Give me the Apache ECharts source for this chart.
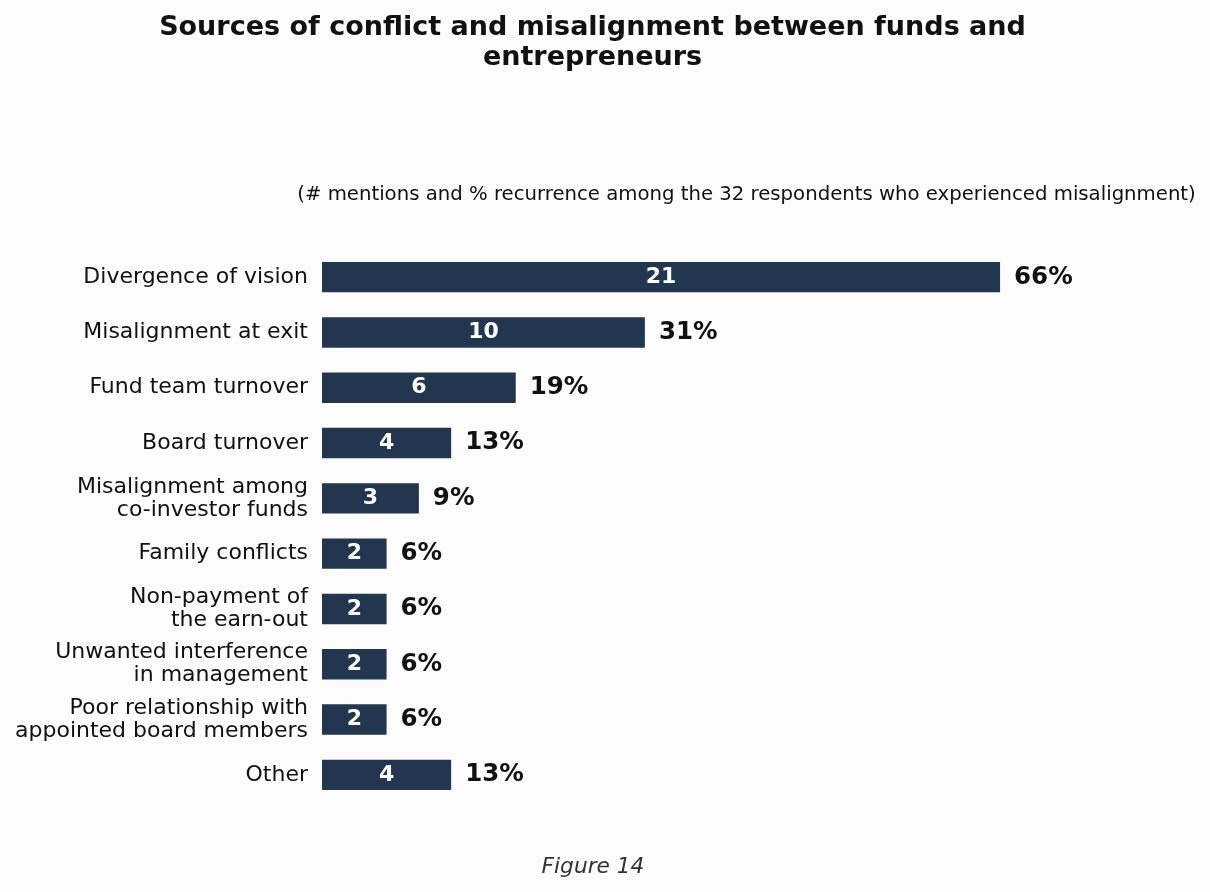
<!DOCTYPE html>
<html>
<head>
<meta charset="utf-8">
<script src="https://cdn.jsdelivr.net/npm/echarts@6/dist/echarts.min.js"></script>
<style>
html,body{margin:0;padding:0;background:#fcfcfc;}
#chart{width:1210px;height:892px;}
</style>
</head>
<body>
<div id="chart"></div>
<script>
const categories = [
  "Divergence of vision",
  "Misalignment at exit",
  "Fund team turnover",
  "Board turnover",
  "Misalignment among\nco-investor funds",
  "Family conflicts",
  "Non-payment of\nthe earn-out",
  "Unwanted interference\nin management",
  "Poor relationship with\nappointed board members",
  "Other"
];
const mentions = [21, 10, 6, 4, 3, 2, 2, 2, 2, 4];
const percentLabels = ["66%", "31%", "19%", "13%", "9%", "6%", "6%", "6%", "6%", "13%"];
const titleText = "Sources of conflict and misalignment between funds and\nentrepreneurs";
const subtitleText = "(# mentions and % recurrence among the 32 respondents who experienced misalignment)";
const footerText = "Figure 14";

const FONT = "DejaVu Sans";
const chart = echarts.init(document.getElementById('chart'));
chart.setOption({
  backgroundColor: '#fcfcfc',
  animation: false,
  title: [
    {
      text: titleText, left: 587.5, top: 8, textAlign: 'center',
      textStyle: { fontFamily: FONT, fontSize: 27, fontWeight: 'bold', color: '#111', lineHeight: 30 }
    },
    {
      text: subtitleText, left: 741.5, top: 180, textAlign: 'center',
      textStyle: { fontFamily: FONT, fontSize: 19.7, fontWeight: 'normal', color: '#111' }
    },
    {
      text: footerText, left: 588, top: 851, textAlign: 'center',
      textStyle: { fontFamily: FONT, fontSize: 21.7, fontStyle: 'italic', fontWeight: 'normal', color: '#333' }
    }
  ],
  grid: { left: 322, top: 249.5, height: 553, width: 871.8, containLabel: false },
  xAxis: {
    type: 'value', min: 0, max: 27,
    show: false, splitLine: { show: false }
  },
  yAxis: {
    type: 'category', data: categories, inverse: true,
    axisLine: { show: false }, axisTick: { show: false },
    axisLabel: {
      margin: 14, fontFamily: FONT, fontSize: 22, color: '#111',
      lineHeight: 23, align: 'right', padding: [3, 0, 0, 0]
    }
  },
  series: [
    {
      type: 'bar', data: mentions, barWidth: '55%',
      itemStyle: { color: '#22374f' },
      label: {
        show: true, position: 'inside', color: '#fff',
        fontFamily: FONT, fontSize: 22, fontWeight: 'bold'
      }
    },
    {
      type: 'bar', data: mentions, barWidth: '55%', barGap: '-100%',
      silent: true,
      itemStyle: { color: 'rgba(0,0,0,0)' },
      label: {
        show: true, position: 'right', distance: 14, color: '#111',
        fontFamily: FONT, fontSize: 24.5, fontWeight: 'bold',
        formatter: p => percentLabels[p.dataIndex]
      }
    }
  ]
});
</script>
</body>
</html>
